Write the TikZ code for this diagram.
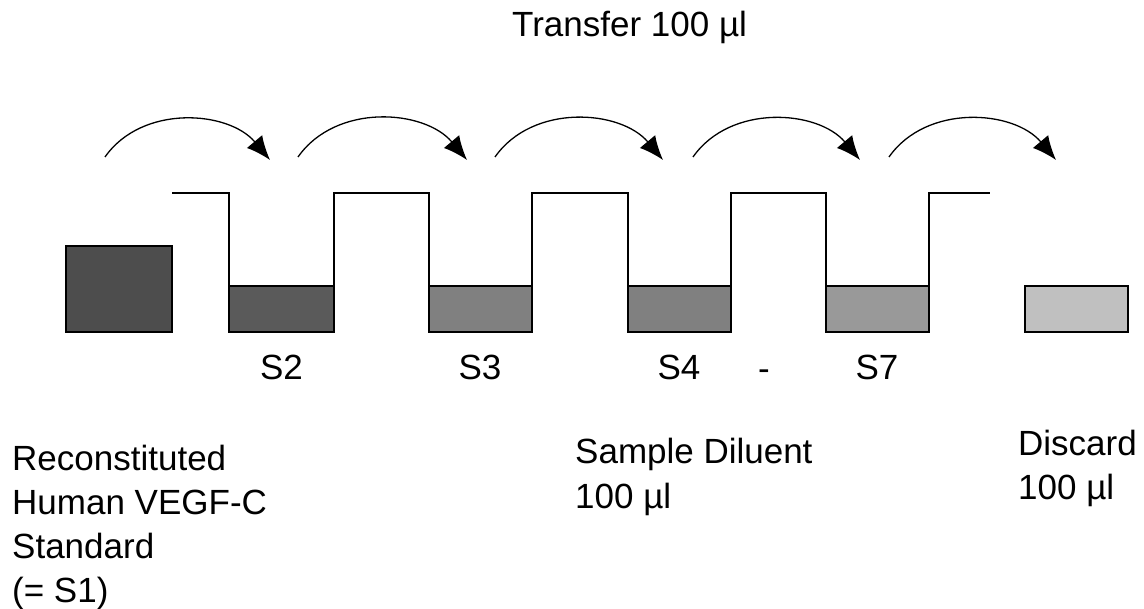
\documentclass[tikz,border=0pt]{standalone}
\usepackage{fontspec}
\setmainfont{Liberation Sans}
\usepackage{color}
\usetikzlibrary{positioning,arrows.meta}

\definecolor{stdgray}{HTML}{4D4D4D}
\definecolor{s2gray}{HTML}{5A5A5A}
\definecolor{midgray}{HTML}{808080}
\definecolor{s7gray}{HTML}{999999}
\definecolor{wastegray}{HTML}{C0C0C0}

\begin{document}
\begin{tikzpicture}[x=1pt,y=-1pt]
        \tikzstyle{well}=[draw,line width=2pt,inner sep=0pt,outer sep=0pt,minimum width=103pt,minimum height=46pt]
        \tikzstyle{tube}=[line width=2pt]
        \tikzstyle{transfer}=[line width=1.3pt,-{Latex[length=24pt,width=20pt]}]
        \tikzstyle{txt}=[inner sep=0pt,font=\fontsize{35}{44}\selectfont]
        \useasboundingbox (0,0) rectangle (1144,609);

        % wells
        \node[well,fill=stdgray,minimum width=106pt,minimum height=86pt] (s1) at (119,289) {};
        \node[well,fill=s2gray,minimum width=105pt] (s2) at (281.5,309) {};
        \node[well,fill=midgray] (s3) at (480,309) {};
        \node[well,fill=midgray] (s4) at (679,309) {};
        \node[well,fill=s7gray] (s7) at (877,309) {};
        \node[well,fill=wastegray] (waste) at (1076.5,309) {};

        % tube outline
        \coordinate (rimin) at (172,193);
        \coordinate (rimout) at (990,193);
        \draw[tube] (rimin) -| (s2.north west);
        \draw[tube] (s2.north east) -- ++(0,-93) -| (s3.north west);
        \draw[tube] (s3.north east) -- ++(0,-93) -| (s4.north west);
        \draw[tube] (s4.north east) -- ++(0,-93) -| (s7.north west);
        \draw[tube] (s7.north east) |- (rimout);

        % transfer arrows
        \coordinate (a1) at (105,157);  \coordinate (b1) at (270,160);
        \coordinate (a2) at (298,157);  \coordinate (b2) at (467,160);
        \coordinate (a3) at (495,157);  \coordinate (b3) at (663,160);
        \coordinate (a4) at (693,157);  \coordinate (b4) at (860,160);
        \coordinate (a5) at (889,157);  \coordinate (b5) at (1056,160);
        \draw[transfer] (a1) to[out=55,in=130] (b1);
        \draw[transfer] (a2) to[out=55,in=130] (b2);
        \draw[transfer] (a3) to[out=55,in=130] (b3);
        \draw[transfer] (a4) to[out=55,in=130] (b4);
        \draw[transfer] (a5) to[out=55,in=130] (b5);

        % labels
        \node[txt,anchor=base west] (title) at (512,37) {Transfer 100 µl};
        \node[txt,below=23pt of s2] (lab2) {S2};
        \node[txt,below=23pt of s3] (lab3) {S3};
        \node[txt,below=23pt of s4] (lab4) {S4};
        \node[txt,below=23pt of s7] (lab7) {S7};
        \node[txt,anchor=base] (dash) at (764,381) {-};
        \node[txt,align=left,anchor=base west] (std) at (12,602) {Reconstituted\\Human VEGF-C\\Standard\\(= S1)};
        \node[txt,align=left,anchor=base west] (diluent) at (575,508) {Sample Diluent\\100 µl};
        \node[txt,align=left,anchor=base west] (discard) at (1018,500) {Discard\\100 µl};
    \end{tikzpicture}
\end{document}
